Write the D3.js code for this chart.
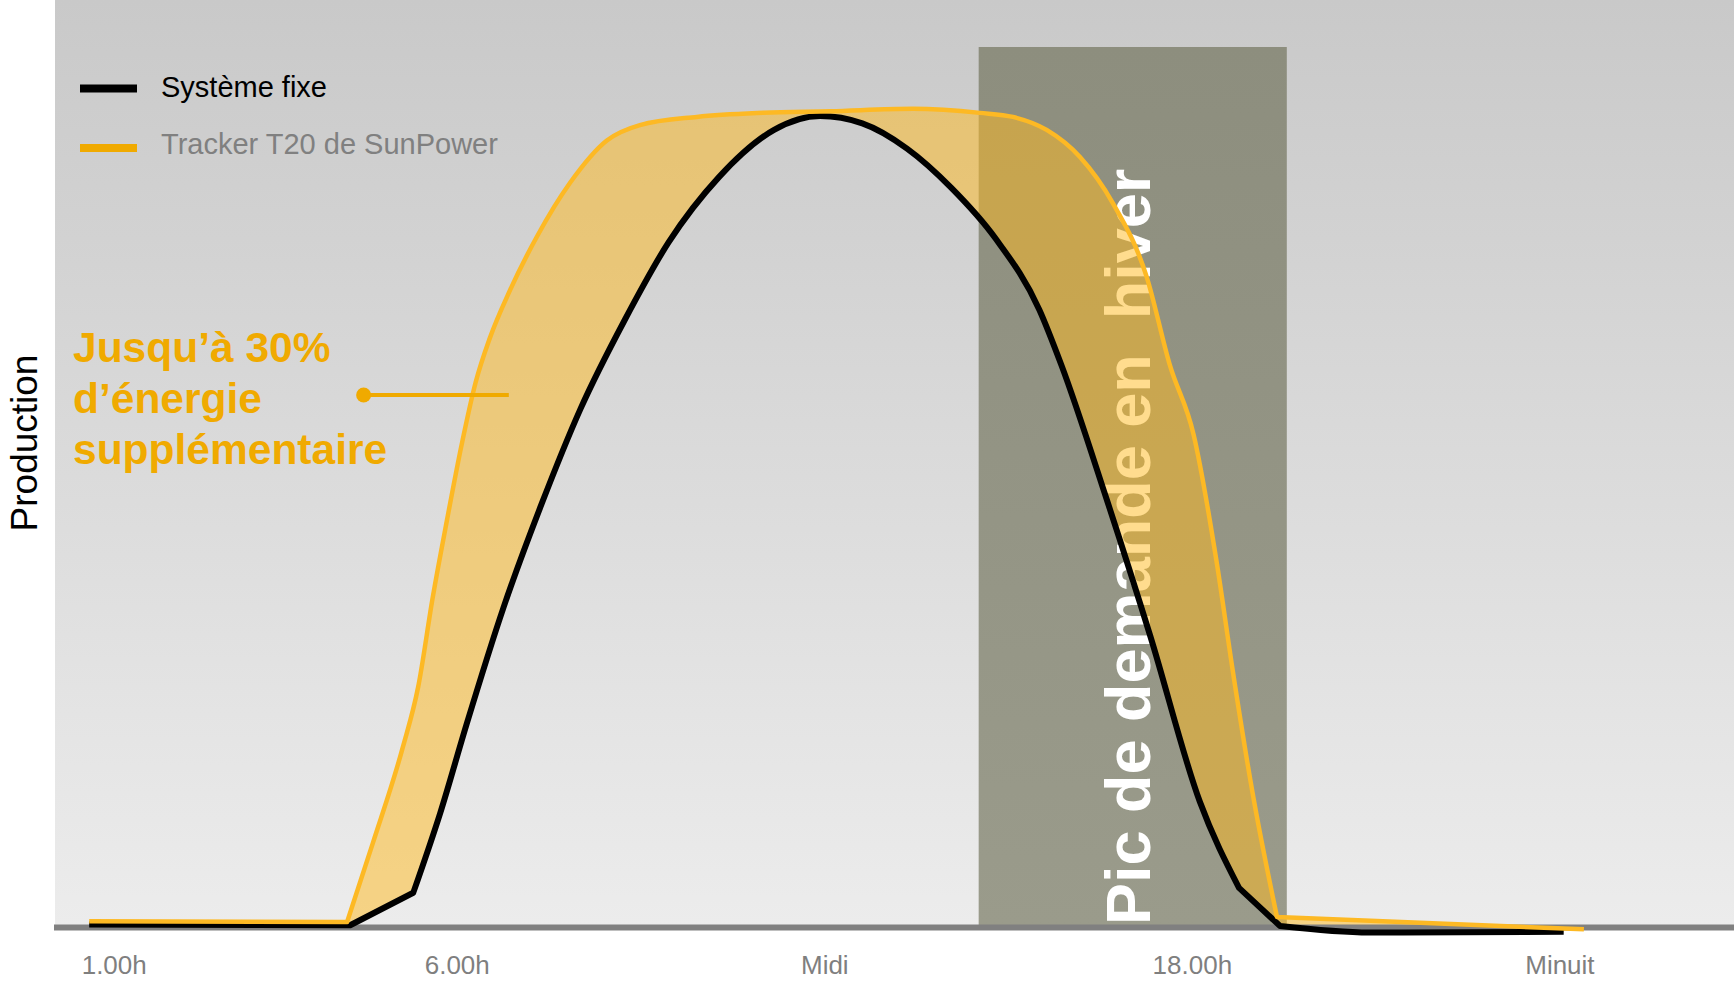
<!DOCTYPE html>
<html>
<head>
<meta charset="utf-8">
<script src="https://cdn.jsdelivr.net/npm/d3@7"></script>
<style>
  html, body { margin: 0; padding: 0; background: #ffffff; }
  svg { display: block; font-family: "Liberation Sans", Arial, Helvetica, sans-serif; }
</style>
</head>
<body>
<svg id="chart" width="1734" height="983"></svg>
<script>
// ---- data -------------------------------------------------------------
const tickHours  = [0.4, 6, 12, 18, 24];
const tickLabels = ["1.00h", "6.00h", "Midi", "18.00h", "Minuit"];

const seriesNames = ["Système fixe", "Tracker T20 de SunPower"];

// fixed-tilt system: hour of day -> relative production
const fixedHours  = [0, 4.26, 5.29, 5.73, 6.16, 6.76, 7.39, 8.02, 8.74, 9.46, 10.28, 11.18, 11.93,
                     12.62, 13.35, 14.07, 14.79, 15.51, 15.87, 16.6, 17.32, 18.13, 18.77, 19.44, 20.9, 24.07];
const fixedValues = [-0.3, -0.4, 3.6, 13.4, 24.3, 38.6, 51.5, 63.1, 74.0, 83.6, 91.6, 97.4, 99.1,
                     98.2, 95.1, 90.3, 84.1, 75.3, 68.5, 52.2, 35.2, 14.8, 4.2, -0.5, -1.3, -1.2];
// indices where the fixed curve has a sharp corner
const fixedCorners = [1, 2, 22, 23];

// single-axis tracker
const trackerHours  = [0, 4.21, 4.63, 5.12, 5.37, 5.61, 5.84, 6.08, 6.31, 6.54, 6.87, 7.31, 7.85, 8.45, 8.99, 9.92,
                       11.0, 12.1, 13.45, 14.54, 15.08, 15.63, 16.17, 16.71, 17.26, 17.64, 18.03, 18.40, 18.67, 19.0, 19.39, 24.4];
const trackerValues = [0.1, 0, 9.7, 21.5, 28.9, 40.0, 49.4, 58.7, 66.4, 71.8, 77.7, 84.3, 90.9, 96.1, 98.0, 99.0,
                       99.5, 99.7, 100, 99.5, 99.0, 97.4, 94.1, 88.4, 79.4, 68.5, 59.9, 44.5, 30.8, 15.5, 0.6, -0.9];
const trackerCorners = [1, 30];

// winter demand peak window (hours)
const peakWindow = [14.52, 19.55];
const peakLabel  = "Pic de demande en  hiver";

const gainLines   = ["Jusqu’à 30%", "d’énergie", "supplémentaire"];
const gainPointer = { from: 4.48, to: 6.85, value: 64.8 };
const axisTitle   = "Production";

// ---- setup ------------------------------------------------------------
const W = 1734, H = 983;
const svg = d3.select("#chart");

const x = d3.scaleLinear().domain([0, 24]).range([89.2, 1559.4]);
const y = d3.scaleLinear().domain([0, 107.6]).range([922, 47]);

const fixed   = fixedHours.map((h, i) => ({ h, v: fixedValues[i] }));
const tracker = trackerHours.map((h, i) => ({ h, v: trackerValues[i] }));

const ORANGE = "#fdb924";
const ORANGE_TXT = "#f0aa00";

// smooth between corners, straight where a run has only two points
function curvePath(points, corners) {
  const breaks = [0, ...corners, points.length - 1];
  let d = "";
  for (let k = 0; k < breaks.length - 1; k++) {
    const slice = points.slice(breaks[k], breaks[k + 1] + 1);
    const gen = d3.line()
      .x(p => x(p.h)).y(p => y(p.v))
      .curve(slice.length > 2 ? d3.curveMonotoneX : d3.curveLinear);
    const s = gen(slice);
    d += k === 0 ? s : "L" + s.slice(1);
  }
  return d;
}

const fixedPath   = curvePath(fixed, fixedCorners);
const trackerPath = curvePath(tracker, trackerCorners);

const defs = svg.append("defs");
const bgGrad = defs.append("linearGradient").attr("id", "bgGrad")
  .attr("x1", 0).attr("y1", 0).attr("x2", 0).attr("y2", 1);
bgGrad.append("stop").attr("offset", "0%").attr("stop-color", "#c9c9c9");
bgGrad.append("stop").attr("offset", "100%").attr("stop-color", "#ececec");

const peakGrad = defs.append("linearGradient").attr("id", "peakGrad")
  .attr("x1", 0).attr("y1", 0).attr("x2", 0).attr("y2", 1);
peakGrad.append("stop").attr("offset", "0%").attr("stop-color", "#8d8e7e");
peakGrad.append("stop").attr("offset", "100%").attr("stop-color", "#9a9b8b");

// plot background
const plotLeft = 55, plotBottom = 925;
svg.append("rect")
  .attr("x", plotLeft).attr("y", 0)
  .attr("width", W - plotLeft).attr("height", plotBottom)
  .attr("fill", "url(#bgGrad)");

// demand peak band
svg.append("rect")
  .attr("x", x(peakWindow[0]))
  .attr("y", y(y.domain()[1]))
  .attr("width", x(peakWindow[1]) - x(peakWindow[0]))
  .attr("height", plotBottom - y(y.domain()[1]))
  .attr("fill", "url(#peakGrad)");

// band caption, rotated (sits under the gain area)
svg.append("text")
  .attr("transform", `translate(1150, ${y(0) + 3}) rotate(-90)`)
  .attr("text-anchor", "start")
  .style("white-space", "pre")
  .attr("font-size", 63)
  .attr("font-weight", "bold")
  .attr("fill", "#ffffff")
  .text(peakLabel);

// ---- gain area between the two curves ------------------------------------
const xf0 = x(fixed[0].h), xf1 = x(fixed[fixed.length - 1].h);
const xt0 = x(tracker[0].h), xt1 = x(tracker[tracker.length - 1].h);

defs.append("clipPath").attr("id", "aboveFixed")
  .append("path")
  .attr("d", `${fixedPath}L${xf1},0L${xf0},0Z`);

svg.append("path")
  .attr("clip-path", "url(#aboveFixed)")
  .attr("d", `${trackerPath}L${xt1},${H}L${xt0},${H}Z`)
  .attr("fill", "rgb(255,186,30)")
  .attr("fill-opacity", 0.5);

// baseline
svg.append("line")
  .attr("x1", 54).attr("x2", W)
  .attr("y1", 927.5).attr("y2", 927.5)
  .attr("stroke", "#808080").attr("stroke-width", 6);

// ---- curves -------------------------------------------------------------
svg.append("path")
  .attr("d", fixedPath)
  .attr("fill", "none").attr("stroke", "#000000")
  .attr("stroke-width", 6).attr("stroke-linejoin", "round");

svg.append("path")
  .attr("d", trackerPath)
  .attr("fill", "none").attr("stroke", ORANGE)
  .attr("stroke-width", 4.5).attr("stroke-linejoin", "round");

// ---- x axis labels ------------------------------------------------------
const axisG = svg.append("g")
  .attr("transform", "translate(0,927.5)")
  .call(d3.axisBottom(x).tickValues(tickHours)
    .tickFormat((d, i) => tickLabels[i]).tickSize(0).tickPadding(28));
axisG.select(".domain").remove();
axisG.attr("font-family", null);
axisG.selectAll("text")
  .attr("font-size", 26)
  .attr("fill", "#7f7f7f");

// ---- y axis title -------------------------------------------------------
svg.append("text")
  .attr("transform", "translate(37, 443) rotate(-90)")
  .attr("text-anchor", "middle")
  .attr("font-size", 37)
  .attr("fill", "#000000")
  .text(axisTitle);

// ---- legend -------------------------------------------------------------
const legend = svg.append("g");
const legendColors = ["#000000", ORANGE_TXT];
const legendTextColors = ["#000000", "#808080"];
const legendRows = [88.5, 148];
const legendBaseline = [96.5, 154];
seriesNames.forEach((name, i) => {
  legend.append("line")
    .attr("x1", 80).attr("x2", 137)
    .attr("y1", legendRows[i]).attr("y2", legendRows[i])
    .attr("stroke", legendColors[i]).attr("stroke-width", 8);
  legend.append("text")
    .attr("x", 161).attr("y", legendBaseline[i])
    .attr("font-size", 29)
    .attr("fill", legendTextColors[i])
    .text(name);
});

// ---- gain annotation ----------------------------------------------------
const gainText = svg.append("text")
  .attr("font-size", 42.5).attr("font-weight", "bold").attr("fill", ORANGE_TXT);
gainLines.forEach((t, i) => {
  gainText.append("tspan").attr("x", 73).attr("y", 362 + i * 51).text(t);
});

svg.append("line")
  .attr("x1", x(gainPointer.from)).attr("x2", x(gainPointer.to))
  .attr("y1", y(gainPointer.value)).attr("y2", y(gainPointer.value))
  .attr("stroke", ORANGE_TXT).attr("stroke-width", 4);
svg.append("circle")
  .attr("cx", x(gainPointer.from)).attr("cy", y(gainPointer.value))
  .attr("r", 7.5).attr("fill", ORANGE_TXT);
</script>
</body>
</html>
